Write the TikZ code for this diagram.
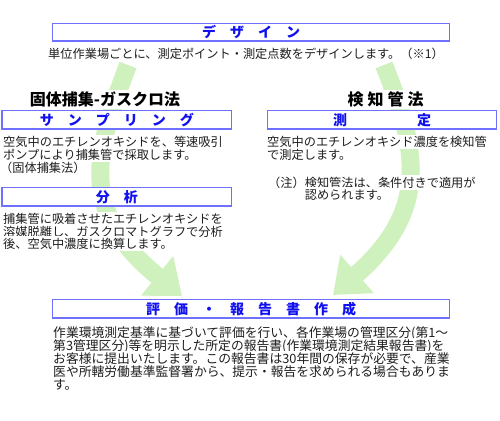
\documentclass[tikz,border=0pt]{standalone}
\usepackage{fontspec}
\setmainfont{Noto Sans CJK JP}
\usetikzlibrary{arrows.meta}
\definecolor{arrowgreen}{RGB}{206,241,189}
\definecolor{boxline}{RGB}{112,112,255}
\definecolor{titleblue}{RGB}{16,16,240}
\definecolor{bodytext}{RGB}{30,30,30}
\tikzset{
  stepbox/.style={draw=boxline, line width=1.6pt, fill=white, inner sep=0pt,
    font=\fontsize{14}{14}\selectfont\bfseries, text=titleblue},
  bodyline/.style={font=\fontsize{12.2}{13}\selectfont, text=bodytext, anchor=west,
    fill=white, inner xsep=0pt, inner ysep=1.2pt, text height=10.7pt, text depth=1.5pt},
  bigline/.style={bodyline, font=\fontsize{12.8}{13}\selectfont, text height=11.2pt, text depth=1.6pt},
  methodlabel/.style={font=\fontsize{16}{16}\selectfont\bfseries, text=black, fill=white,
    inner xsep=0pt, inner ysep=2pt},
  flowarrow/.style={draw=arrowgreen, line width=18pt,
    -{Triangle[length=32pt,width=49pt,fill=arrowgreen]}}
}
\begin{document}
\begin{tikzpicture}[x=1pt,y=-1pt]
\useasboundingbox (0,0) rectangle (500,420);
\fill[white] (0,0) rectangle (500,420);
% flow arrows (behind everything)
\coordinate (ltail) at (128,65);
\coordinate (ltip) at (182,296);
\draw[flowarrow] (ltail) .. controls (96,150) and (76,210) .. (ltip);
\coordinate (rtail) at (384,65);
\coordinate (rtip) at (333,295);
\draw[flowarrow] (rtail) .. controls (418,150) and (430,210) .. (rtip);
% design
\node[stepbox, minimum width=397pt, minimum height=17.5pt] (design) at (251,32.25) {デ\hspace{1em}ザ\hspace{1em}イ\hspace{1em}ン};
\node[bodyline] (designtext) at (48,54) {単位作業場ごとに、測定ポイント・測定点数をデザインします。（※1）};
% method labels
\node[methodlabel] (solidlabel) at (105,99.5) {固体捕集-ガスクロ法};
\node[methodlabel] (tubelabel) at (385.5,99.5) {検\hspace{.25em}知\hspace{.25em}管\hspace{.25em}法};
% sampling
\node[stepbox, minimum width=229.5pt, minimum height=18.5pt] (sampling) at (116.75,119.75) {サ\hspace{1em}ン\hspace{1em}プ\hspace{1em}リ\hspace{1em}ン\hspace{1em}グ};
\node[bodyline] (samp1) at (3,142) {空気中のエチレンオキシドを、等速吸引};
\node[bodyline] (samp2) at (3,155) {ポンプにより捕集管で採取します。};
\node[bodyline] (samp3) at (0,167.5) {（固体捕集法）};
% measurement
\node[stepbox, minimum width=229pt, minimum height=18.5pt] (measure) at (382,119.75) {測\hspace{5em}定};
\node[bodyline] (meas1) at (267,142) {空気中のエチレンオキシド濃度を検知管};
\node[bodyline] (meas2) at (267,155) {で測定します。};
\node[bodyline] (note1) at (268,182.5) {（注）検知管法は、条件付きで適用が};
\node[bodyline] (note2) at (304.6,194.5) {認められます。};
% analysis
\node[stepbox, minimum width=229.5pt, minimum height=18.5pt] (analysis) at (116.75,196.75) {分\hspace{1em}析};
\node[bodyline] (ana1) at (3,219) {捕集管に吸着させたエチレンオキシドを};
\node[bodyline] (ana2) at (3,231.5) {溶媒脱離し、ガスクロマトグラフで分析};
\node[bodyline] (ana3) at (3,243.5) {後、空気中濃度に換算します。};
% evaluation and report
\node[stepbox, minimum width=397pt, minimum height=18.5pt] (report) at (251,308.75) {評\hspace{1em}価\hspace{1em}・\hspace{1em}報\hspace{1em}告\hspace{1em}書\hspace{1em}作\hspace{1em}成};
\node[bigline] (rep1) at (53,332.5) {作業環境測定基準に基づいて評価を行い、各作業場の管理区分(第1～};
\node[bigline] (rep2) at (53,345.5) {第3管理区分)等を明示した所定の報告書(作業環境測定結果報告書)を};
\node[bigline] (rep3) at (53,358.5) {お客様に提出いたします。この報告書は30年間の保存が必要で、産業};
\node[bigline] (rep4) at (53,371.5) {医や所轄労働基準監督署から、提示・報告を求められる場合もありま};
\node[bigline] (rep5) at (53,384.5) {す。};
\end{tikzpicture}
\end{document}
